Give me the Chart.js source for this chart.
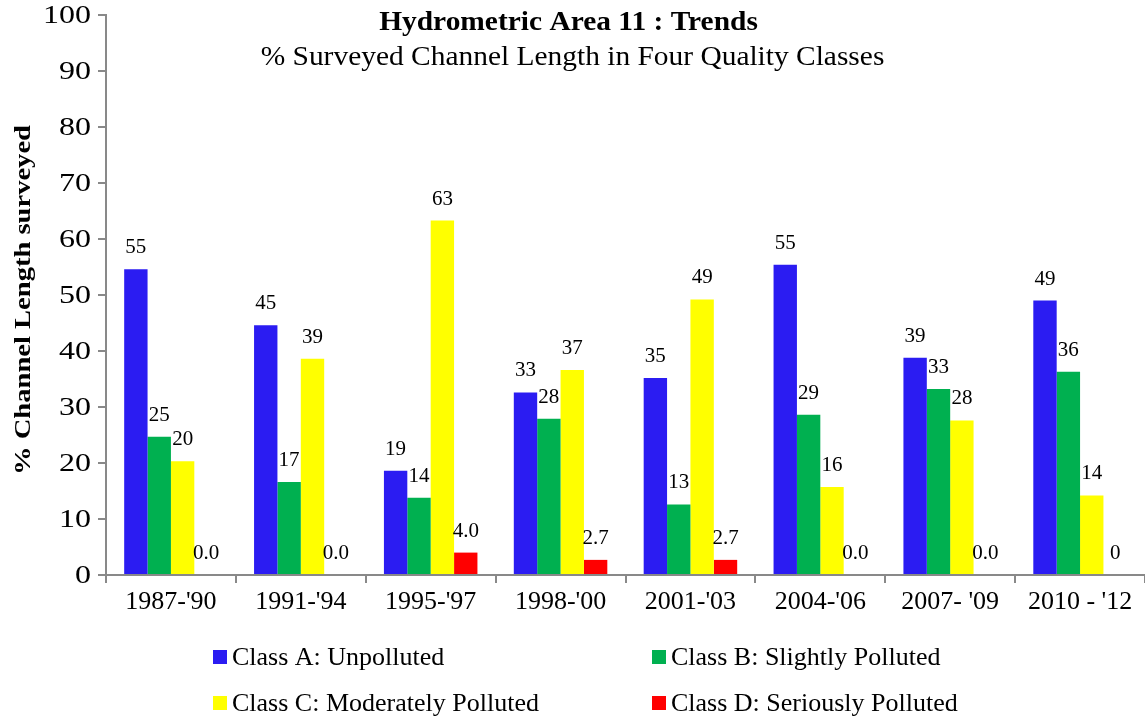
<!DOCTYPE html>
<html>
<head>
<meta charset="utf-8">
<script src="https://cdn.jsdelivr.net/npm/chart.js@4.4.1/dist/chart.umd.min.js"></script>
<style>
  html, body { margin: 0; padding: 0; background: #fff; }
  canvas { display: block; }
</style>
</head>
<body>
<canvas id="chart" width="1145" height="719"></canvas>
<script>
const periods = ["1987-'90", "1991-'94", "1995-'97", "1998-'00", "2001-'03", "2004-'06", "2007- '09", "2010 - '12"];

const classA = [54.6, 44.6, 18.6, 32.6, 35.2, 55.4, 38.8, 49.0];
const classB = [24.7, 16.6, 13.8, 27.9, 12.6, 28.6, 33.2, 36.3];
const classC = [20.3, 38.6, 63.3, 36.6, 49.2, 15.7, 27.6, 14.2];
const classD = [0, 0, 4.0, 2.7, 2.7, 0, 0, 0];

const labelsA = ['55', '45', '19', '33', '35', '55', '39', '49'];
const labelsB = ['25', '17', '14', '28', '13', '29', '33', '36'];
const labelsC = ['20', '39', '63', '37', '49', '16', '28', '14'];
const labelsD = ['0.0', '0.0', '4.0', '2.7', '2.7', '0.0', '0.0', '0'];

const yTickValues = [0, 10, 20, 30, 40, 50, 60, 70, 80, 90, 100];

const seriesNames = ['Class A: Unpolluted', 'Class B: Slightly Polluted', 'Class C: Moderately Polluted', 'Class D: Seriously Polluted'];
const COLORS = ['#2B1CF2', '#00B050', '#FFFF00', '#FF0000'];

const SERIF = "'Liberation Serif', 'Times New Roman', serif";
const AXIS_GREY = '#898989';

// the source picture has its title and y-axis text stretched sideways,
// so those bits are drawn by hand with a horizontal scale
function stretchedText(ctx, text, x, y, sx) {
  ctx.save();
  ctx.translate(x, y);
  ctx.scale(sx, 1);
  ctx.fillText(text, 0, 0);
  ctx.restore();
}

const titlePlugin = {
  id: 'insideTitle',
  afterDraw(chart) {
    const { ctx } = chart;
    const cx = chart.width / 2;
    ctx.save();
    ctx.fillStyle = '#000';
    ctx.textAlign = 'center';
    ctx.textBaseline = 'middle';
    ctx.font = `bold 27px ${SERIF}`;
    stretchedText(ctx, 'Hydrometric Area 11 : Trends', cx - 4, 23, 1.09);
    ctx.font = `27px ${SERIF}`;
    stretchedText(ctx, '% Surveyed Channel Length in Four Quality Classes', cx, 58, 1.09);
    ctx.restore();
  },
};

const yAxisText = {
  id: 'yAxisText',
  afterDraw(chart) {
    const { ctx, chartArea } = chart;
    const y = chart.scales.y;
    ctx.save();
    ctx.fillStyle = '#000';
    ctx.textAlign = 'right';
    ctx.textBaseline = 'middle';
    ctx.font = `25px ${SERIF}`;
    yTickValues.forEach((v) => {
      stretchedText(ctx, String(v), 91, y.getPixelForValue(v) + 1, 1.28);
    });
    // rotated axis title
    ctx.textAlign = 'center';
    ctx.font = `bold 24px ${SERIF}`;
    ctx.translate(24, (chartArea.top + chartArea.bottom) / 2 + 5);
    ctx.rotate(-Math.PI / 2);
    stretchedText(ctx, '% Channel Length surveyed', 0, 0, 1.19);
    ctx.restore();
  },
};

// value labels above each bar
const valueLabels = {
  id: 'valueLabels',
  afterDatasetsDraw(chart) {
    const { ctx } = chart;
    ctx.save();
    ctx.fillStyle = '#000';
    ctx.textAlign = 'center';
    ctx.textBaseline = 'alphabetic';
    ctx.font = `21px ${SERIF}`;
    chart.data.datasets.forEach((ds, i) => {
      chart.getDatasetMeta(i).data.forEach((bar, j) => {
        ctx.fillText(ds.valueLabels[j], bar.x, bar.y - 16);
      });
    });
    ctx.restore();
  },
};

// 2 x 2 legend under the axis
const gridLegend = {
  id: 'gridLegend',
  afterDraw(chart) {
    const { ctx } = chart;
    const cols = [213, 652];
    const rows = [657, 703];
    ctx.save();
    ctx.font = `26px ${SERIF}`;
    ctx.textBaseline = 'middle';
    ctx.textAlign = 'left';
    chart.data.datasets.forEach((ds, i) => {
      const x = cols[i % 2];
      const y = rows[Math.floor(i / 2)];
      ctx.fillStyle = ds.backgroundColor;
      ctx.fillRect(x, y - 7, 14, 14);
      ctx.fillStyle = '#000';
      ctx.fillText(ds.label, x + 19, y + 1);
    });
    ctx.restore();
  },
};

const datasets = [classA, classB, classC, classD].map((values, i) => ({
  label: seriesNames[i],
  data: values,
  backgroundColor: COLORS[i],
  valueLabels: [labelsA, labelsB, labelsC, labelsD][i],
}));

new Chart(document.getElementById('chart'), {
  type: 'bar',
  data: { labels: periods, datasets },
  options: {
    responsive: false,
    animation: false,
    layout: { padding: { top: 15, right: 0, bottom: 100, left: 0 } },
    datasets: { bar: { categoryPercentage: 0.72, barPercentage: 1.0 } },
    plugins: {
      legend: { display: false },
      title: { display: false },
      tooltip: { enabled: false },
    },
    scales: {
      x: {
        grid: { offset: true, drawOnChartArea: false, drawTicks: true, tickLength: 8, color: AXIS_GREY, lineWidth: 2 },
        border: { color: AXIS_GREY, width: 2 },
        ticks: { color: '#000', font: { family: SERIF, size: 26 }, padding: 4, maxRotation: 0 },
        afterFit: (s) => { s.height = 44; },
      },
      y: {
        min: 0,
        max: 100,
        // labels are drawn by yAxisText; keep the tick marks only
        ticks: { stepSize: 10, color: 'rgba(0,0,0,0)', font: { size: 8 } },
        grid: { drawOnChartArea: false, drawTicks: true, tickLength: 8, color: AXIS_GREY, lineWidth: 2 },
        border: { color: AXIS_GREY, width: 2 },
        afterFit: (s) => { s.width = 106; },
      },
    },
  },
  plugins: [titlePlugin, yAxisText, valueLabels, gridLegend],
});
</script>
</body>
</html>
